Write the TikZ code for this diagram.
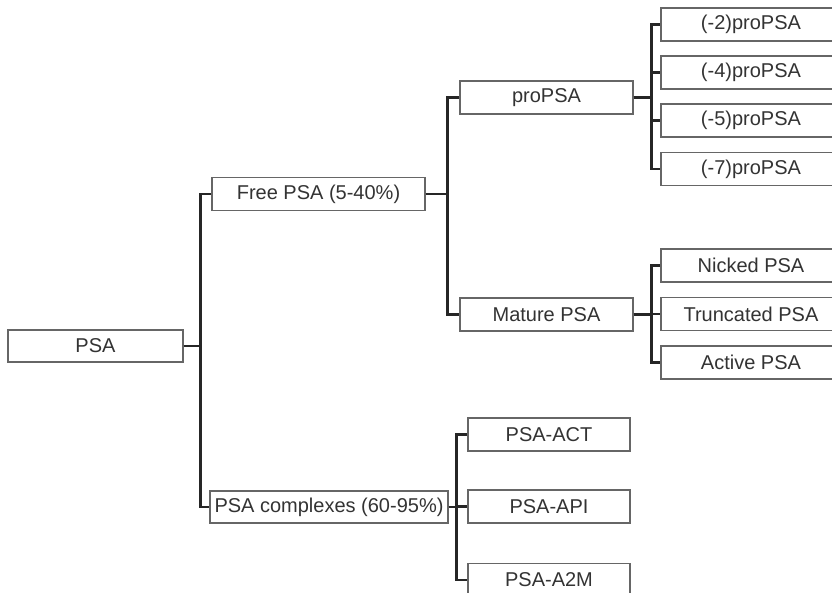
\documentclass[tikz,border=0pt]{standalone}
\usepackage{fontspec}
\setmainfont{Liberation Sans}
\begin{document}
\begin{tikzpicture}[x=1pt,y=-1pt,
  box/.style={draw=black!60,line width=1.3pt,fill=white,text=black!80,inner sep=0pt,
    minimum height=33pt,font=\fontsize{20}{23}\selectfont},
  link/.style={draw=black!85,line width=2.4pt}]
\useasboundingbox (0,0) rectangle (832,593);
\clip (0,0) rectangle (832,593);
\fill[white] (0,0) rectangle (832,593);
% level 0
\node[box,minimum width=175pt,minimum height=32pt] (psa) at (95.5,346) {PSA};
% level 1
\node[box,minimum width=213pt] (free) at (318.5,194) {Free PSA (5-40\%)};
\node[box,minimum width=238pt,minimum height=32pt] (cplx) at (329,507) {PSA complexes (60-95\%)};
% level 2
\node[box,minimum width=173pt] (pro) at (546.5,97.5) {proPSA};
\node[box,minimum width=173pt] (mat) at (546.5,314.5) {Mature PSA};
% level 3
\node[box,minimum width=180pt] (p2) at (751,24.5) {(-2)proPSA};
\node[box,minimum width=180pt] (p4) at (751,72.5) {(-4)proPSA};
\node[box,minimum width=180pt] (p5) at (751,120.5) {(-5)proPSA};
\node[box,minimum width=180pt] (p7) at (751,169) {(-7)proPSA};
\node[box,minimum width=180pt] (nick) at (751,265.5) {Nicked PSA};
\node[box,minimum width=180pt] (trunc) at (751,314) {Truncated PSA};
\node[box,minimum width=180pt] (act) at (751,362.5) {Active PSA};
\node[box,minimum width=162pt] (pact) at (549,434.5) {PSA-ACT};
\node[box,minimum width=162pt] (papi) at (549,506.5) {PSA-API};
\node[box,minimum width=162pt] (pa2m) at (549,580) {PSA-A2M};
% connectors
\foreach \c in {free,cplx} \draw[link] (psa.east) -- ++(17,0) |- (\c.west);
\foreach \c in {pro,mat} \draw[link] (free.east) -- ++(22,0) |- (\c.west);
\foreach \c in {p2,p4,p5,p7} \draw[link] (pro.east) -- ++(18,0) |- (\c.west);
\foreach \c in {nick,trunc,act} \draw[link] (mat.east) -- ++(18,0) |- (\c.west);
\foreach \c in {pact,papi,pa2m} \draw[link] (cplx.east) -- ++(8,0) |- (\c.west);
\end{tikzpicture}
\end{document}
